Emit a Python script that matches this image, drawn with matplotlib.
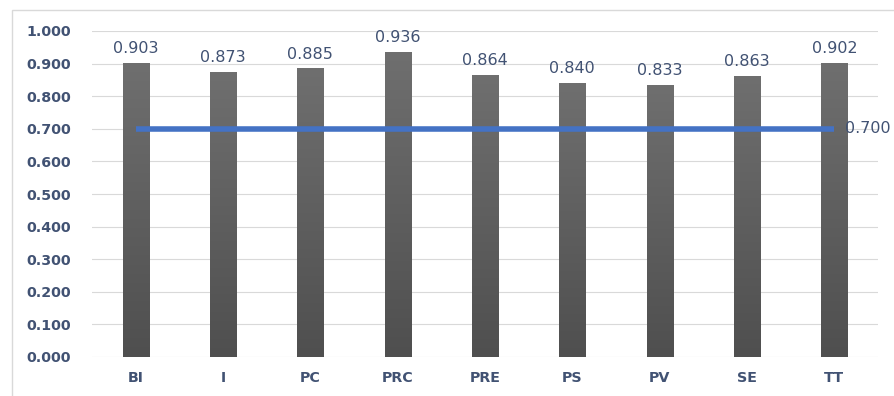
import matplotlib.pyplot as plt
import numpy as np
from matplotlib.colors import LinearSegmentedColormap
from matplotlib.patches import Rectangle

# reliability values per construct
constructs = ['BI', 'I', 'PC', 'PRC', 'PRE', 'PS', 'PV', 'SE', 'TT']
values = [0.903, 0.873, 0.885, 0.936, 0.864, 0.840, 0.833, 0.863, 0.902]
threshold = 0.700
yticks = [0.0, 0.1, 0.2, 0.3, 0.4, 0.5, 0.6, 0.7, 0.8, 0.9, 1.0]

text_col = '#415273'
plt.rcParams['font.family'] = ['DejaVu Sans']

fig = plt.figure(figsize=(8.94, 3.96), dpi=100)
ax = fig.add_axes([92 / 894, 1 - 357 / 396, 786 / 894, 326 / 396])

# outer chart border
fig.patches.append(Rectangle((12 / 894, -0.05), 1.0, 1 - 10 / 396 + 0.05,
                             transform=fig.transFigure, fill=False,
                             edgecolor='#d9d9d9', linewidth=1.0))

x = np.arange(len(constructs))
bars = ax.bar(x, values, width=0.3, color='#5e5e5e', zorder=2)

# vertical gray gradient on every bar
grad = np.linspace(0, 1, 256).reshape(-1, 1)
cmap = LinearSegmentedColormap.from_list('bargrad', ['#4f4f4f', '#6f6f6f'])
for b in bars:
    x0, y0 = b.get_x(), b.get_y()
    w, h = b.get_width(), b.get_height()
    im = ax.imshow(grad, extent=[x0, x0 + w, y0, y0 + h], origin='lower',
                   cmap=cmap, aspect='auto', zorder=2)
    im.set_clip_path(b)

for xi, v in zip(x, values):
    ax.annotate(f'{v:.3f}', (xi, v), xytext=(0, 5), textcoords='offset points',
                ha='center', va='bottom', fontsize=11.5, color=text_col)

ax.plot([x[0], x[-1]], [threshold, threshold], color='#4472C4',
        linewidth=4, solid_capstyle='butt', zorder=3)
ax.annotate(f'{threshold:.3f}', (x[-1], threshold), xytext=(8, 0),
            textcoords='offset points', ha='left', va='center',
            fontsize=11.5, color=text_col, annotation_clip=False)

ax.set_xlim(-0.5, len(constructs) - 0.5)
ax.set_ylim(0, 1.0)
ax.set_yticks(yticks)
ax.set_yticklabels([f'{t:.3f}' for t in yticks], fontsize=10.3,
                   fontweight='bold', color=text_col)
ax.set_xticks(x)
ax.set_xticklabels(constructs, fontsize=10.3, fontweight='bold', color=text_col)
ax.tick_params(axis='both', length=0)
ax.tick_params(axis='y', pad=15)
ax.tick_params(axis='x', pad=10)
ax.grid(axis='y', color='#d9d9d9', linewidth=0.8, zorder=0)
ax.set_axisbelow(True)
for s in ax.spines.values():
    s.set_visible(False)

fig.savefig('out.png', dpi=100)
